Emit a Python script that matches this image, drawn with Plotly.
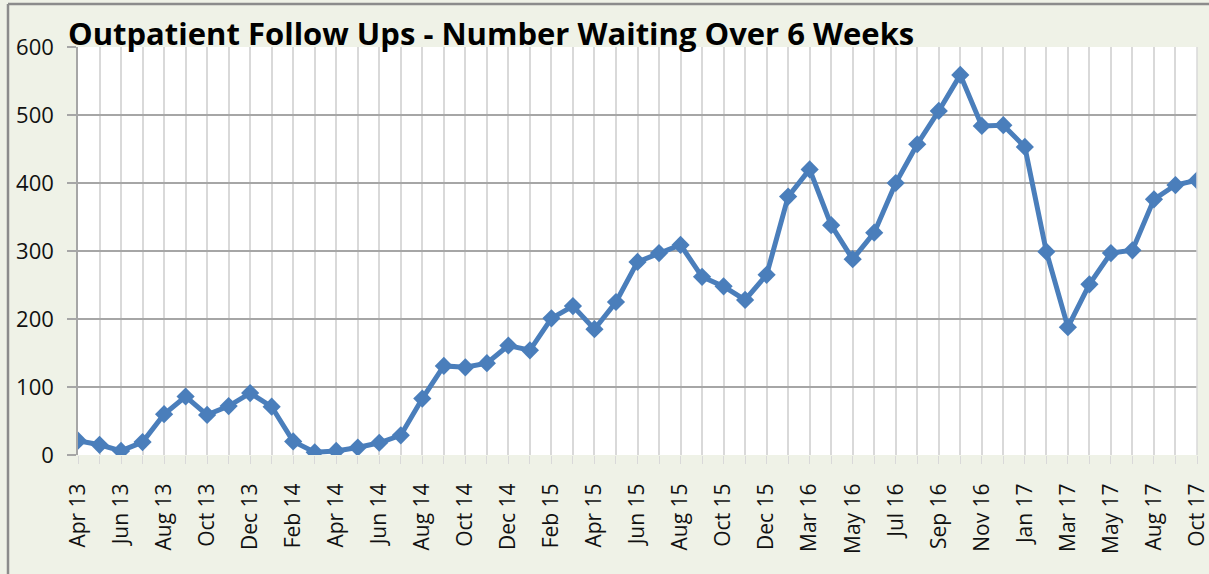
import plotly.graph_objects as go

# Monthly reporting periods (one period absent in early 2016 and mid 2017)
months = [
    "Apr 13", "May 13", "Jun 13", "Jul 13", "Aug 13", "Sep 13", "Oct 13", "Nov 13",
    "Dec 13", "Jan 14", "Feb 14", "Mar 14", "Apr 14", "May 14", "Jun 14", "Jul 14",
    "Aug 14", "Sep 14", "Oct 14", "Nov 14", "Dec 14", "Jan 15", "Feb 15", "Mar 15",
    "Apr 15", "May 15", "Jun 15", "Jul 15", "Aug 15", "Sep 15", "Oct 15", "Nov 15",
    "Dec 15", "Feb 16", "Mar 16", "Apr 16", "May 16", "Jun 16", "Jul 16", "Aug 16",
    "Sep 16", "Oct 16", "Nov 16", "Dec 16", "Jan 17", "Feb 17", "Mar 17", "Apr 17",
    "May 17", "Jul 17", "Aug 17", "Sep 17", "Oct 17",
]

waiting_over_6_weeks = [
    21, 15, 6, 19, 60, 86, 59, 72,
    91, 71, 20, 4, 6, 11, 18, 29,
    83, 131, 129, 135, 161, 154, 201, 219,
    185, 225, 284, 297, 309, 262, 248, 228,
    265, 380, 420, 338, 288, 327, 400, 457,
    506, 559, 484, 485, 453, 299, 188, 251,
    297, 301, 376, 397, 404,
]

y_ticks = [0, 100, 200, 300, 400, 500, 600]

positions = list(range(len(months)))
label_positions = positions[::2]
label_text = [months[i] for i in label_positions]

W, H = 1209, 574
L, R, T, B = 78, 12, 47, 119
plot_w = W - L - R
plot_h = H - T - B

def px_x(px):
    return (px - L) / plot_w

def px_y(py):
    return 1 - (py - T) / plot_h

fig = go.Figure()
fig.add_trace(go.Scatter(
    x=positions,
    y=waiting_over_6_weeks,
    mode="lines+markers",
    line=dict(color="#4A7EBB", width=5),
    marker=dict(symbol="diamond", size=14, color="#4A7EBB"),
    hovertext=months,
    showlegend=False,
))

x_font = dict(family="Open Sans, Lato, sans-serif", size=21, color="#111111")
y_font = dict(family="Open Sans, Lato, sans-serif", size=22, color="#111111")
frame = dict(color="#8C8C8C", width=2.5)

fig.update_layout(
    width=W, height=H,
    margin=dict(l=L, r=R, t=T, b=B, autoexpand=False),
    paper_bgcolor="#EFF2E7",
    plot_bgcolor="#FFFFFF",
    xaxis=dict(
        range=[0, len(months) - 1],
        automargin=False,
        tickmode="array",
        tickvals=label_positions,
        ticktext=label_text,
        tickangle=-90,
        tickfont=x_font,
        ticklabeloverflow="allow",
        ticklabelstandoff=11,
        ticks="outside",
        ticklen=8,
        tickcolor="#D9D9D9",
        showgrid=True,
        gridcolor="#D9D9D9",
        gridwidth=1.5,
        minor=dict(dtick=1, tick0=0, showgrid=True, gridcolor="#D9D9D9",
                   gridwidth=1.5, ticks="outside", ticklen=8, tickcolor="#D9D9D9"),
        showline=False,
        zeroline=False,
        fixedrange=True,
    ),
    yaxis=dict(
        range=[0, 600],
        automargin=False,
        tickvals=y_ticks,
        tickfont=y_font,
        ticklabelstandoff=9,
        ticks="outside",
        ticklen=9,
        tickcolor="#A6A6A6",
        tickwidth=1.5,
        showgrid=True,
        gridcolor="#A6A6A6",
        gridwidth=1.5,
        showline=True,
        linecolor="#A6A6A6",
        linewidth=1.5,
        zeroline=False,
        fixedrange=True,
    ),
    shapes=[
        # outer chart frame: top and left edges (the rest runs off the page)
        dict(type="line", xref="paper", yref="paper",
             x0=px_x(8), x1=px_x(W), y0=px_y(4), y1=px_y(4), line=frame),
        dict(type="line", xref="paper", yref="paper",
             x0=px_x(8), x1=px_x(8), y0=px_y(4), y1=px_y(H), line=frame),
        # right edge of the plot area
        dict(type="line", xref="paper", yref="paper", x0=1, x1=1, y0=0, y1=1,
             line=dict(color="#D9D9D9", width=1.5)),
    ],
    annotations=[
        dict(text="<b>Outpatient Follow Ups - Number Waiting Over 6 Weeks</b>",
             xref="paper", yref="paper", x=px_x(66), y=px_y(33),
             xanchor="left", yanchor="middle", showarrow=False,
             font=dict(family="Open Sans, Lato, sans-serif", size=31, color="#000000")),
    ],
)

fig.write_html("out.html", config={"displayModeBar": False})
